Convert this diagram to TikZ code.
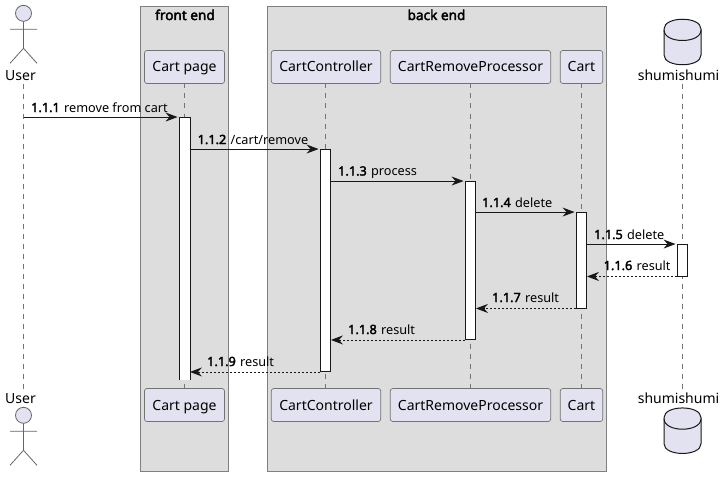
\documentclass[tikz,border=0pt]{standalone}
\usepackage{fontspec}
\setmainfont{Noto Sans}[BoldFont={Noto Sans}, BoldFeatures={FakeBold=2.5}]
\usetikzlibrary{arrows.meta}
\definecolor{partfill}{HTML}{E2E2F0}
\definecolor{groupfill}{HTML}{DDDDDD}
\definecolor{inkline}{HTML}{181818}
\newcommand{\stepnum}[1]{\textbf{#1}\hspace{1pt}}
\tikzset{
    groupbox/.style={draw=black!50, fill=groupfill, line width=0.8pt},
    grouptitle/.style={font=\fontsize{13.6}{15}\selectfont\bfseries, anchor=base, inner sep=0pt},
    part/.style={draw=black!55, fill=partfill, line width=0.7pt, rounded corners=2.5pt, minimum height=33pt, inner sep=0pt, text height=11pt, text depth=1pt, font=\fontsize{14}{16}\selectfont},
    partname/.style={font=\fontsize{14}{16}\selectfont, inner sep=0pt, anchor=base},
    lifeline/.style={draw=black!55, line width=0.7pt, dash pattern=on 5pt off 5pt},
    activ/.style={draw=inkline, fill=white, line width=0.9pt, minimum width=10pt, inner sep=0pt},
    call/.style={draw=inkline, line width=0.9pt, -{Stealth[length=12pt, width=9pt, inset=4pt]}, shorten >=1.5pt},
    reply/.style={call, dash pattern=on 2pt off 2pt, -{Stealth[length=12pt, width=9pt, inset=4pt]}, shorten >=0pt},
    msg/.style={font=\fontsize{12.7}{15}\selectfont, anchor=base west, inner sep=0pt},
    actorfig/.pic={
        \draw[draw=black!60, fill=partfill, line width=0.8pt] (0,0) circle (8pt);
        \draw[draw=black!60, line width=0.8pt] (0,8)--(0,35) (-13.5,16)--(13.5,16) (-13.5,50)--(0,35)--(13.5,50);
    },
    dbfig/.pic={
        \draw[draw=inkline, fill=partfill, line width=1pt, rounded corners=1pt] (-18.5,-12) .. controls (-18.5,-26) and (18.5,-26) .. (18.5,-12) -- (18.5,12) .. controls (18.5,26) and (-18.5,26) .. (-18.5,12) -- cycle;
        \draw[draw=inkline, line width=1pt] (-18.5,-12) .. controls (-18.5,2) and (18.5,2) .. (18.5,-12);
    }
}
\begin{document}
\begin{tikzpicture}[x=1pt, y=-1pt]
    \useasboundingbox (0,0) rectangle (727,476);
    % groups
    \draw[groupbox] (140.5,6.5) rectangle (228.5,471.5);
    \draw[groupbox] (267.5,6.5) rectangle (606.5,471.5);
    \node[grouptitle] (frontend) at (185,20) {front end};
    \node[grouptitle] (backend) at (436.5,20) {back end};
    % lifelines
    \coordinate (usertop) at (23.5,84);
    \coordinate (userbot) at (23.5,391);
    \coordinate (dbtop) at (682.5,84);
    \coordinate (dbbot) at (682.5,391);
    \draw[lifeline] (usertop) -- (userbot);
    \draw[lifeline] (dbtop) -- (dbbot);
    \draw[lifeline] (184.5,83.5) -- (184.5,388.5);
    \draw[lifeline] (325.5,83.5) -- (325.5,388.5);
    \draw[lifeline] (470.5,83.5) -- (470.5,388.5);
    \draw[lifeline] (581.5,83.5) -- (581.5,388.5);
    % participants, top and bottom row
    \foreach \nm/\lbl/\cx/\bw in {cartpage/Cart page/184.5/80, controller/CartController/326/109.4, processor/CartRemoveProcessor/470.5/160.4, cart/Cart/581.5/42.4} {
        \node[part, minimum width=\bw pt] (\nm top) at (\cx,67) {\lbl};
        \node[part, minimum width=\bw pt] (\nm bot) at (\cx,405) {\lbl};
    }
    % actor and database
    \pic at (23.5,13.3) {actorfig};
    \pic at (23.5,415.3) {actorfig};
    \pic at (682.5,42) {dbfig};
    \pic at (682.5,430.7) {dbfig};
    \node[partname] (usernametop) at (20.5,80.2) {User};
    \node[partname] (usernamebot) at (20.5,403.4) {User};
    \node[partname] (dbnametop) at (678.5,80.2) {shumishumi};
    \node[partname] (dbnamebot) at (678.5,403.4) {shumishumi};
    % activations
    \node[activ, draw=none, minimum height=262.5pt] (act1) at (184.5,248.75) {};
    \draw[inkline, line width=0.9pt] (act1.south west) -- (act1.north west) -- (act1.north east) -- (act1.south east);
    \node[activ, minimum height=222pt] (act2) at (325.5,260.5) {};
    \node[activ, minimum height=158pt] (act3) at (470.5,260.5) {};
    \node[activ, minimum height=95.5pt] (act4) at (581.5,260.25) {};
    \node[activ, minimum height=31.5pt] (act5) at (682.5,260.25) {};
    % messages
    \draw[call] (usertop |- act1.north) -- (act1.north west);
    \draw[call] (act1.east |- act2.north) -- (act2.north west);
    \draw[call] (act2.east |- act3.north) -- (act3.north west);
    \draw[call] (act3.east |- act4.north) -- (act4.north west);
    \draw[call] (act4.east |- act5.north) -- (act5.north west);
    \draw[reply] (act5.south west) -- (act4.east |- act5.south);
    \draw[reply] (act4.south west) -- (act3.east |- act4.south);
    \draw[reply] (act3.south west) -- (act2.east |- act3.south);
    \draw[reply] (act2.south west) -- (act1.east |- act2.south);
    % message labels
    \node[msg] (msg1) at (31,112) {\stepnum{1.1.1} remove from cart};
    \node[msg] (msg2) at (197.5,144) {\stepnum{1.1.2} /cart/remove};
    \node[msg] (msg3) at (338,175.5) {\stepnum{1.1.3} process};
    \node[msg] (msg4) at (482,207) {\stepnum{1.1.4} delete};
    \node[msg] (msg5) at (594,239) {\stepnum{1.1.5} delete};
    \node[msg] (msg6) at (603.5,270) {\stepnum{1.1.6} result};
    \node[msg] (msg7) at (492,302) {\stepnum{1.1.7} result};
    \node[msg] (msg8) at (348,334) {\stepnum{1.1.8} result};
    \node[msg] (msg9) at (207,366) {\stepnum{1.1.9} result};
\end{tikzpicture}
\end{document}
